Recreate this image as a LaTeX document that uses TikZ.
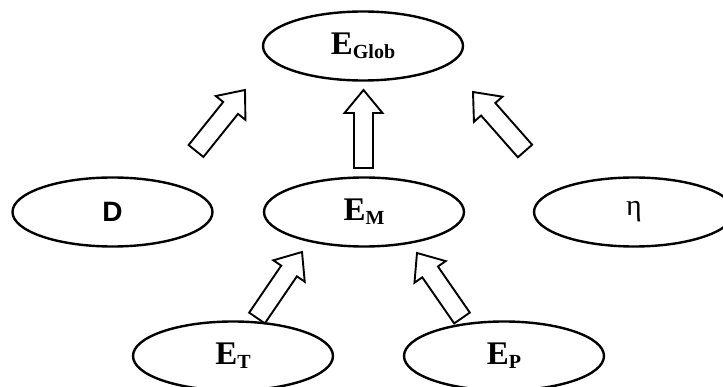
\documentclass[tikz,border=0pt]{standalone}
\usepackage{fontspec}
\setmainfont{Liberation Serif}
\newfontfamily\sansbold{Liberation Sans}
\usetikzlibrary{shapes.geometric,calc}
\newcommand\Elab[1]{{\fontsize{33}{33}\selectfont\bfseries E}\raisebox{-4pt}{\fontsize{20}{20}\selectfont\bfseries #1}}
\begin{document}
\begin{tikzpicture}[x=1pt,y=-1pt,
  oval/.style={draw, line width=2.4pt, ellipse, minimum width=200pt, minimum height=69pt, inner sep=0pt},
  fat/.style={line width=1.9pt, line join=miter, to path={
    ($(\tikztostart)!9.5pt!-90:(\tikztotarget)$)
    -- ($(\tikztotarget)!23pt!(\tikztostart)!9.5pt!90:(\tikztostart)$)
    -- ($(\tikztotarget)!23pt!(\tikztostart)!19pt!90:(\tikztostart)$)
    -- (\tikztotarget)
    -- ($(\tikztotarget)!23pt!(\tikztostart)!19pt!-90:(\tikztostart)$)
    -- ($(\tikztotarget)!23pt!(\tikztostart)!9.5pt!-90:(\tikztostart)$)
    -- ($(\tikztostart)!9.5pt!90:(\tikztotarget)$) -- cycle}}]
\useasboundingbox (0,0) rectangle (723,387);
\node[oval] (glob) at (363,46) {\Elab{Glob}};
\node[oval] (D) at (112.5,212) {\fontsize{28}{28}\selectfont\sansbold\bfseries D};
\node[oval] (EM) at (364,212) {\Elab{M}};
\node[oval] (eta) at (634,212) {\fontsize{30}{30}\selectfont η};
\node[oval] (ET) at (233,356) {\Elab{T}};
\node[oval] (EP) at (504,356) {\Elab{P}};
\coordinate (a1) at (196,151); \coordinate (b1) at (245,90);
\coordinate (a2) at (363.5,168); \coordinate (b2) at (363.5,90);
\coordinate (a3) at (525,151); \coordinate (b3) at (473,92);
\coordinate (a4) at (257,318); \coordinate (b4) at (302,252);
\coordinate (a5) at (462,318); \coordinate (b5) at (417,253);
\draw[fat] (a1) to (b1);
\draw[fat] (a2) to (b2);
\draw[fat] (a3) to (b3);
\draw[fat] (a4) to (b4);
\draw[fat] (a5) to (b5);
\end{tikzpicture}
\end{document}
